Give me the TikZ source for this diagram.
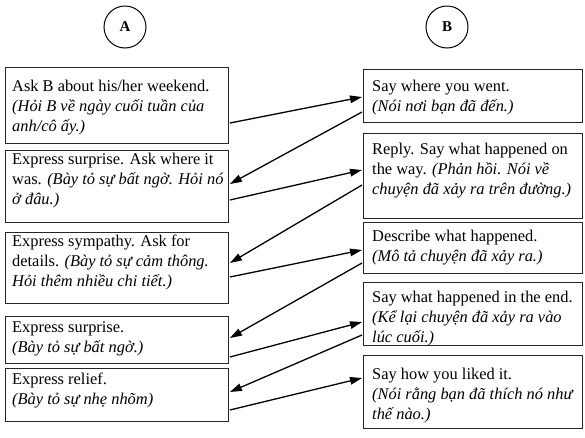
\documentclass[tikz,border=0pt]{standalone}
\usepackage{fontspec}
\setmainfont{Liberation Serif}
\usetikzlibrary{arrows.meta,calc}
\begin{document}
\begin{tikzpicture}[x=1pt,y=-1pt,
  box/.style={draw=black!85,line width=0.9pt,rectangle,inner sep=0pt,anchor=north west},
  txt/.style={anchor=north west,inner sep=0pt,align=left,font=\fontsize{16.4}{20}\selectfont},
  circ/.style={draw=black,line width=1pt,circle,minimum size=42pt,inner sep=0pt,font=\fontsize{15}{17}\selectfont\bfseries},
  conn/.style={line width=1.3pt,-{Triangle[length=12pt,width=7.5pt]}}]
\useasboundingbox (0,0) rectangle (585,437);
% circles
\node[circ] (ca) at (125,27) {A};
\node[circ] (cb) at (447,27) {B};
% left boxes
\node[box,minimum width=223pt,minimum height=76pt] (a1) at (5,67) {};
\node[box,minimum width=223pt,minimum height=72pt] (a2) at (5,150) {};
\node[box,minimum width=223pt,minimum height=71pt] (a3) at (5,232) {};
\node[box,minimum width=223pt,minimum height=47pt] (a4) at (5,316) {};
\node[box,minimum width=223pt,minimum height=53pt] (a5) at (5,368) {};
% right boxes
\node[box,minimum width=219pt,minimum height=53pt] (b1) at (363,69) {};
\node[box,minimum width=219pt,minimum height=85pt] (b2) at (363,133) {};
\node[box,minimum width=219pt,minimum height=51pt] (b3) at (363,222) {};
\node[box,minimum width=219pt,minimum height=63pt] (b4) at (363,282) {};
\node[box,minimum width=219pt,minimum height=73pt] (b5) at (363,355) {};
% texts
\node[txt] (ta1) at ($(a1.north west)+(7,13)$) {Ask B about his/her weekend.\\\textit{(Hỏi B về ngày cuối tuần của}\\\textit{anh/cô ấy.)}};
\node[txt] (ta2) at ($(a2.north west)+(7,3)$) {Express surprise. Ask where it\\was. \textit{(Bày tỏ sự bất ngờ. Hỏi nó}\\\textit{ở đâu.)}};
\node[txt] (ta3) at ($(a3.north west)+(7,3)$) {Express sympathy. Ask for\\details. \textit{(Bày tỏ sự cảm thông.}\\\textit{Hỏi thêm nhiều chi tiết.)}};
\node[txt] (ta4) at ($(a4.north west)+(7,5)$) {Express surprise.\\\textit{(Bày tỏ sự bất ngờ.)}};
\node[txt] (ta5) at ($(a5.north west)+(7,5)$) {Express relief.\\\textit{(Bày tỏ sự nhẹ nhõm)}};
\node[txt] (tb1) at ($(b1.north west)+(9,11)$) {Say where you went.\\\textit{(Nói nơi bạn đã đến.)}};
\node[txt] (tb2) at ($(b2.north west)+(9,10)$) {Reply. Say what happened on\\the way. \textit{(Phản hồi. Nói về}\\\textit{chuyện đã xảy ra trên đường.)}};
\node[txt] (tb3) at ($(b3.north west)+(9,8)$) {Describe what happened.\\\textit{(Mô tả chuyện đã xảy ra.)}};
\node[txt] (tb4) at ($(b4.north west)+(9,9)$) {Say what happened in the end.\\\textit{(Kể lại chuyện đã xảy ra vào}\\\textit{lúc cuối.)}};
\node[txt] (tb5) at ($(b5.north west)+(9,13)$) {Say how you liked it.\\\textit{(Nói rằng bạn đã thích nó như}\\\textit{thế nào.)}};
% connectors
\draw[conn] ($(a1.north east)+(1,56)$) -- ($(b1.north west)+(-1,28)$);
\draw[conn] ($(b1.north west)+(-1,43)$) -- ($(a2.north east)+(1,34)$);
\draw[conn] ($(a2.north east)+(1,50)$) -- ($(b2.north west)+(-1,37)$);
\draw[conn] ($(b2.north west)+(-1,52)$) -- ($(a3.north east)+(1,31)$);
\draw[conn] ($(a3.north east)+(1,45)$) -- ($(b3.north west)+(-1,28)$);
\draw[conn] ($(b3.north west)+(-1,41)$) -- ($(a4.north east)+(1,22)$);
\draw[conn] ($(a4.north east)+(1,41)$) -- ($(b4.north west)+(-1,40)$);
\draw[conn] ($(b4.north west)+(-1,53)$) -- ($(a5.north east)+(1,24)$);
\draw[conn] ($(a5.north east)+(1,42)$) -- ($(b5.north west)+(-1,23)$);
\end{tikzpicture}
\end{document}
